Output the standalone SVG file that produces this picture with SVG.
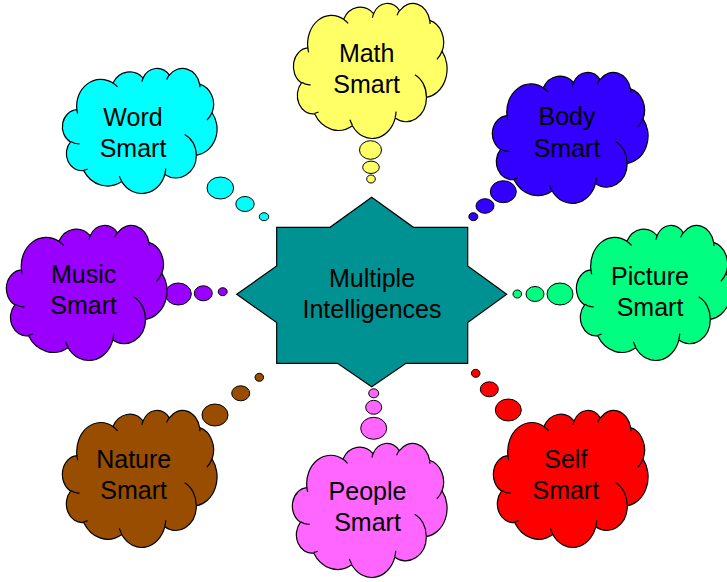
<svg xmlns="http://www.w3.org/2000/svg" width="727" height="582" viewBox="0 0 727 582">
<defs>
<style>
.c{stroke:#000;stroke-width:1.2;stroke-linejoin:round}
.il{fill:none;stroke:#000;stroke-width:1.2}
.b{stroke:#000;stroke-width:1}
text{font-family:"Liberation Sans",Arial,sans-serif;font-size:25px;fill:#000;text-anchor:middle}
</style>
<path id="cl" vector-effect="non-scaling-stroke" d="M39 143.7A67.53 91.9 0 0 1 140.05 52.02A53.33 72.67 0 0 1 224.57 34.31A43.65 59.45 0 0 1 298.34 24.8A48.57 65.95 0 0 1 383.2 55.73A53.33 72.73 0 0 1 418.2 154.57A67.75 92.2 0 0 1 374.06 302A57.85 78.67 0 0 1 285.58 368.1A67.52 92.15 0 0 1 164.82 392.61A77.2 105.43 0 0 1 58.06 354.65A43.6 59.18 0 0 1 21.15 255.43A43.45 59.45 0 0 1 39 143.7Z"/>
<path id="ci" vector-effect="non-scaling-stroke" fill="none" d="M46.93 261.77A43.45 59.45 0 0 1 21.6 253.8M69.28 348.99A43.6 59.18 0 0 1 58.19 352.81M164.78 390.9A67.52 92.15 0 0 1 158.1 373.5M288.27 347.51A67.52 92.15 0 0 1 285.6 366.61M341.29 229.54A57.85 78.67 0 0 1 373.8 300.9M417.98 153.54A53.33 72.73 0 0 1 403.5 180.3M383.24 54.26A48.57 65.95 0 0 1 384 66.9M290.78 39.52A48.57 65.95 0 0 1 298.18 23.42M221.41 47.2A43.65 59.45 0 0 1 225 33.3M140 51.92A67.53 91.9 0 0 1 153.01 65.42M41.27 157.89A67.53 91.9 0 0 1 39 143.7"/>
</defs>
<rect width="727" height="582" fill="#fff"/>

<g id="connectors">
<g fill="#00ffff" class="b"><ellipse cx="220.3" cy="188" rx="13.3" ry="11"/><ellipse cx="245" cy="204" rx="9.2" ry="7.5"/><ellipse cx="264" cy="216.7" rx="4.7" ry="4"/></g>
<g fill="#ffff66" class="b"><ellipse cx="370.5" cy="150" rx="11" ry="9.3"/><ellipse cx="371" cy="167.3" rx="8.3" ry="6.2"/><ellipse cx="371" cy="179" rx="4.3" ry="4"/></g>
<g fill="#3300ff" class="b"><ellipse cx="503.3" cy="191.7" rx="13" ry="11"/><ellipse cx="485" cy="206" rx="9" ry="7.3"/><ellipse cx="473.3" cy="216.7" rx="4.5" ry="4"/></g>
<g fill="#9900ff" class="b"><ellipse cx="178.3" cy="294" rx="13" ry="11"/><ellipse cx="203.3" cy="293.3" rx="9" ry="7.5"/><ellipse cx="222.7" cy="291.7" rx="4.5" ry="4"/></g>
<g fill="#00ff80" class="b"><ellipse cx="560" cy="294" rx="13" ry="11"/><ellipse cx="535" cy="294" rx="9" ry="7.5"/><ellipse cx="517.3" cy="294" rx="4.3" ry="4"/></g>
<g fill="#ff66ff" class="b"><ellipse cx="373.7" cy="428.3" rx="13" ry="11"/><ellipse cx="373.7" cy="407.3" rx="8" ry="7"/><ellipse cx="373.7" cy="393.3" rx="5" ry="4.5"/></g>
<g fill="#994d00" class="b"><ellipse cx="215" cy="415" rx="13" ry="11"/><ellipse cx="240.7" cy="393.3" rx="9" ry="7.5"/><ellipse cx="259.3" cy="377.3" rx="4.3" ry="4"/></g>
<g fill="#ff0000" class="b"><ellipse cx="508.3" cy="410" rx="13" ry="11"/><ellipse cx="489.3" cy="389.3" rx="9" ry="7.5"/><ellipse cx="475.7" cy="373.3" rx="4.3" ry="4"/></g>
</g>

<g id="center">
<polygon points="371.7,197.3 413.4,227.3 467.7,227.3 467.7,266 506.7,294.3 467.7,322.6 467.7,363.3 406,363.3 371.7,386.7 337.5,363.3 276.7,363.3 276.7,322.6 236.7,294.3 276.7,266 276.7,227.3 330,227.3" fill="#009292" stroke="#000" stroke-width="1.2" stroke-linejoin="miter"/>
<text x="372" y="287.3">Multiple</text>
<text x="372" y="318">Intelligences</text>
</g>

<g id="math">
<g transform="translate(294,3) scale(0.3542,0.3125)"><use href="#cl" fill="#ffff66" class="c"/><use href="#ci" class="il"/></g>
<text x="366.7" y="62">Math</text><text x="366.7" y="92.7">Smart</text>
</g>

<g id="word">
<g transform="translate(63,68) scale(0.3565,0.2894)"><use href="#cl" fill="#00ffff" class="c"/><use href="#ci" class="il"/></g>
<text x="133" y="126">Word</text><text x="133" y="157.3">Smart</text>
</g>

<g id="body">
<g transform="translate(493,72) scale(0.3588,0.3032)"><use href="#cl" fill="#3300ff" class="c"/><use href="#ci" class="il"/></g>
<text x="567" y="125">Body</text><text x="567" y="157.3">Smart</text>
</g>

<g id="music">
<g transform="translate(7,225) scale(0.3704,0.3125)"><use href="#cl" fill="#9900ff" class="c"/><use href="#ci" class="il"/></g>
<text x="83.7" y="283.3">Music</text><text x="83.7" y="314">Smart</text>
</g>

<g id="picture">
<g transform="translate(577,225) scale(0.3565,0.3125)"><use href="#cl" fill="#00ff80" class="c"/><use href="#ci" class="il"/></g>
<text x="650" y="285">Picture</text><text x="650" y="315.7">Smart</text>
</g>

<g id="people">
<g transform="translate(293,443) scale(0.3565,0.3102)"><use href="#cl" fill="#ff66ff" class="c"/><use href="#ci" class="il"/></g>
<text x="367.5" y="500">People</text><text x="367.5" y="531">Smart</text>
</g>

<g id="nature">
<g transform="translate(63,410) scale(0.3565,0.3171)"><use href="#cl" fill="#994d00" class="c"/><use href="#ci" class="il"/></g>
<text x="133.7" y="468.3">Nature</text><text x="133.7" y="499">Smart</text>
</g>

<g id="self">
<g transform="translate(494,410) scale(0.3565,0.3171)"><use href="#cl" fill="#ff0000" class="c"/><use href="#ci" class="il"/></g>
<text x="565.8" y="468.3">Self</text><text x="565.8" y="499">Smart</text>
</g>
</svg>
